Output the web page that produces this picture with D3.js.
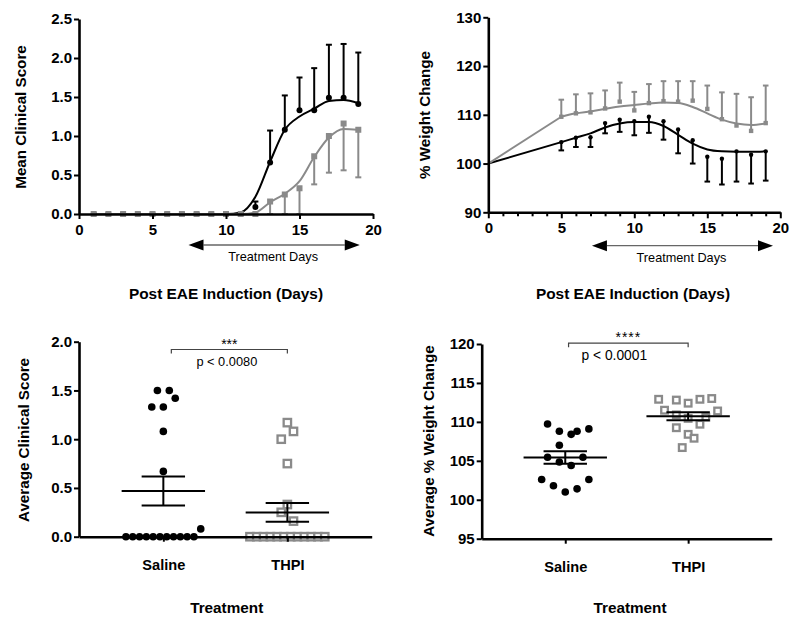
<!DOCTYPE html>
<html><head><meta charset="utf-8">
<script src="https://cdn.jsdelivr.net/npm/d3@7/dist/d3.min.js"></script>
<style>
body{margin:0;background:#fff}
svg{display:block}
text{font-family:"Liberation Sans",Arial,Helvetica,sans-serif}
</style>
</head><body>
<svg id="chart" width="800" height="627"></svg>
<script>
// ---------- DATA ----------
// Panel A: mean clinical score by day
const scoreDays = [1,2,3,4,5,6,7,8,9,10,11,12,13,14,15,16,17,18,19];
const salineScore    = [0,0,0,0,0,0,0,0,0,0,0,0.09,0.66,1.08,1.33,1.33,1.49,1.49,1.41];
const salineScoreSem = [0,0,0,0,0,0,0,0,0,0,0,0.07,0.41,0.44,0.42,0.54,0.68,0.69,0.66];
const salineScoreFit = [0,0,0,0,0,0,0,0,0,0,0.02,0.22,0.67,1.08,1.25,1.35,1.45,1.46,1.42];
const thpiScore      = [0,0,0,0,0,0,0,0,0,0,0,0,0.16,0.25,0.33,0.74,1.00,1.16,1.08];
const thpiScoreSem   = [0,0,0,0,0,0,0,0,0,0,0,0,0.16,0.25,0.33,0.36,0.47,0.60,0.61];
const thpiScoreFit   = [0,0,0,0,0,0,0,0,0,0,0,0.02,0.15,0.26,0.42,0.73,0.98,1.09,1.08];
const scoreYTicks = [0,0.5,1.0,1.5,2.0,2.5];
const dayTicks = [0,5,10,15,20];

// Panel B: % weight change by day
const weightDays = [0,5,6,7,8,9,10,11,12,13,14,15,16,17,18,19];
const salineWeight    = [100,104.4,105.3,105.4,108.3,109.0,108.7,109.6,108.7,107.0,104.8,101.4,101.0,102.5,101.8,102.5];
const salineWeightSem = [0,1.7,1.9,2.0,2.1,2.5,2.9,3.3,3.8,4.9,4.8,5.1,5.3,6.2,5.9,6.0];
const salineWeightFit = [100,104.4,105.3,106.2,107.4,108.2,108.5,108.5,107.7,105.9,104.1,102.9,102.5,102.4,102.4,102.5];
const thpiWeight      = [100,109.6,110.3,110.5,111.3,112.7,110.9,112.4,112.8,112.7,112.9,111.2,109.1,107.8,106.7,108.3];
const thpiWeightSem   = [0,3.5,3.9,3.9,3.7,3.9,3.8,3.9,4.1,4.2,4.0,4.8,5.5,6.5,6.9,7.7];
const thpiWeightFit   = [100,109.6,110.3,110.7,111.2,111.7,112.0,112.3,112.5,112.4,111.6,110.3,109.0,108.2,107.9,108.2];
const weightYTicks = [90,100,110,120,130];

// Treatment window (days) as drawn under each time-course panel
const treatScoreWindow  = [7.45, 19.1];
const treatWeightWindow = [7.1, 19.5];

// Panel C: average clinical score per animal
const groups = ["Saline","THPI"];
const salineAvgScore     = [1.5,1.5,1.42,1.33,1.33,1.08,0.67,0.08,0,0,0,0,0,0,0,0,0,0,0];
const salineAvgScoreSlot = [-1.75,1.75,3.5,-3.4,0,0,0,11,-11,-9,-7,-5,-3,-1,1,3,5,7,9];
const thpiAvgScore       = [1.17,1.08,1.0,0.75,0.33,0.25,0.16,0,0,0,0,0,0,0,0,0,0,0,0];
const thpiAvgScoreSlot   = [0,1.8,-1.8,0,0,-1.8,1.8,-11,-9,-7,-5,-3,-1,1,3,5,7,9,11];
const avgScoreYTicks = [0,0.5,1.0,1.5,2.0];

// Panel D: average % weight change per animal
const salineAvgWeight     = [109.72,108.8,108.4,108.8,109.1,107.0,105.45,105.45,104.85,104.4,102.6,102.6,101.8,101.4,101.0];
const salineAvgWeightSlot = [-3,-1,1,2,4,-1,-3,3,-1,1,-4,4,-2,2,0];
const thpiAvgWeight       = [112.9,112.8,112.4,112.9,113.0,111.5,111.4,110.9,110.45,110.6,109.25,109.7,108.4,107.9,106.7];
const thpiAvgWeightSlot   = [-5,-2,0,2,4,-4,5,-2,0,3,-2,2,0,1,-1];
const avgWeightYTicks = [95,100,105,110,115,120];

// ---------- STYLE ----------
const BLACK = "#000", GREY = "#8a8a8a";
const svg = d3.select("#chart");

function styleAxis(g, fs){
  g.select(".domain").attr("stroke","#000").attr("stroke-width",2.6);
  g.selectAll(".tick line").attr("stroke","#000").attr("stroke-width",2);
  g.selectAll(".tick text").attr("font-size",fs).attr("font-weight","bold").attr("fill","#000")
    .attr("font-family","'Liberation Sans',Arial,sans-serif");
}
function title(x,y,txt,rot,fs){
  svg.append("text").attr("x",x).attr("y",y)
    .attr("transform", rot ? `rotate(-90,${x},${y})` : null)
    .attr("text-anchor","middle").attr("dominant-baseline","central")
    .attr("font-size",fs).attr("font-weight","bold").text(txt);
}
function arrow(g, x, y0, win){
  const a = x(win[0]), b = x(win[1]), L = 15, H = 5.5;
  g.append("line").attr("x1",a+L).attr("x2",b-L).attr("y1",y0).attr("y2",y0)
    .attr("stroke","#666").attr("stroke-width",1.3);
  g.append("path").attr("d",`M${a},${y0}L${a+L},${y0-H}L${a+L},${y0+H}Z`).attr("fill","#000");
  g.append("path").attr("d",`M${b},${y0}L${b-L},${y0-H}L${b-L},${y0+H}Z`).attr("fill","#000");
  g.append("text").attr("x",(a+b)/2 - 1).attr("y",y0+12).attr("text-anchor","middle")
    .attr("dominant-baseline","central").attr("font-size",12.7).text("Treatment Days");
}

// ---------- PANEL A ----------
(function(){
  const ox=79, oy=19, W=294, H=195;
  const g = svg.append("g").attr("transform",`translate(${ox},${oy})`);
  const x = d3.scaleLinear().domain([0,20]).range([0,W]);
  const y = d3.scaleLinear().domain([0,2.5]).range([H,0]);
  const line = d3.line().x((d,i)=>x(scoreDays[i])).y(d=>y(d)).curve(d3.curveMonotoneX);
  const cap = 3;
  salineScore.forEach((v,i)=>{
    if(salineScoreSem[i]<=0) return;
    const xx=x(scoreDays[i]), t=y(v+salineScoreSem[i]);
    g.append("line").attr("x1",xx).attr("x2",xx).attr("y1",y(v)).attr("y2",t).attr("stroke",BLACK).attr("stroke-width",2);
    g.append("line").attr("x1",xx-cap).attr("x2",xx+cap).attr("y1",t).attr("y2",t).attr("stroke",BLACK).attr("stroke-width",2);
  });
  thpiScore.forEach((v,i)=>{
    if(thpiScoreSem[i]<=0) return;
    const xx=x(scoreDays[i]), b=y(Math.max(0,v-thpiScoreSem[i]));
    g.append("line").attr("x1",xx).attr("x2",xx).attr("y1",y(v)).attr("y2",b).attr("stroke",GREY).attr("stroke-width",2);
    g.append("line").attr("x1",xx-cap).attr("x2",xx+cap).attr("y1",b).attr("y2",b).attr("stroke",GREY).attr("stroke-width",2);
  });
  g.append("path").attr("d",line(salineScoreFit)).attr("fill","none").attr("stroke",BLACK).attr("stroke-width",2);
  g.append("path").attr("d",line(thpiScoreFit)).attr("fill","none").attr("stroke",GREY).attr("stroke-width",2);
  g.selectAll("circle.s").data(salineScore).join("circle").attr("class","s")
    .attr("cx",(d,i)=>x(scoreDays[i])).attr("cy",d=>y(d)).attr("r",3).attr("fill",BLACK);
  g.selectAll("rect.t").data(thpiScore).join("rect").attr("class","t")
    .attr("x",(d,i)=>x(scoreDays[i])-3).attr("y",d=>y(d)-3).attr("width",6).attr("height",6).attr("fill",GREY);
  const ya = g.append("g").call(d3.axisLeft(y).tickValues(scoreYTicks).tickFormat(d3.format(".1f")).tickSize(5).tickSizeOuter(0).tickPadding(2));
  styleAxis(ya,15);
  const xa = g.append("g").attr("transform",`translate(0,${H})`).call(d3.axisBottom(x).tickValues(dayTicks).tickFormat(d3.format("d")).tickSize(5).tickSizeOuter(0).tickPadding(5));
  styleAxis(xa,15);
  arrow(g, x, 226, treatScoreWindow);
})();
title(20,117,"Mean Clinical Score",true,15.2);
title(226,293,"Post EAE Induction (Days)",false,15.4);

// ---------- PANEL B ----------
(function(){
  const ox=488.3, oy=17.3, W=292, H=195;
  const g = svg.append("g").attr("transform",`translate(${ox},${oy})`);
  const x = d3.scaleLinear().domain([0,20]).range([0,W]);
  const y = d3.scaleLinear().domain([90,130]).range([H,0]);
  // straight segment from day 0 to the first measured day, smooth afterwards
  const straight = d3.line().x((d,i)=>x(weightDays[i])).y(d=>y(d));
  const smooth = d3.line().x((d,i)=>x(weightDays[i+1])).y(d=>y(d)).curve(d3.curveMonotoneX);
  const cap = 2.8;
  salineWeight.forEach((v,i)=>{
    if(salineWeightSem[i]<=0) return;
    const xx=x(weightDays[i]), b=y(v-salineWeightSem[i]);
    g.append("line").attr("x1",xx).attr("x2",xx).attr("y1",y(v)).attr("y2",b).attr("stroke",BLACK).attr("stroke-width",2);
    g.append("line").attr("x1",xx-cap).attr("x2",xx+cap).attr("y1",b).attr("y2",b).attr("stroke",BLACK).attr("stroke-width",2);
  });
  thpiWeight.forEach((v,i)=>{
    if(thpiWeightSem[i]<=0) return;
    const xx=x(weightDays[i]), t=y(v+thpiWeightSem[i]);
    g.append("line").attr("x1",xx).attr("x2",xx).attr("y1",y(v)).attr("y2",t).attr("stroke",GREY).attr("stroke-width",2);
    g.append("line").attr("x1",xx-cap).attr("x2",xx+cap).attr("y1",t).attr("y2",t).attr("stroke",GREY).attr("stroke-width",2);
  });
  [[salineWeightFit,BLACK],[thpiWeightFit,GREY]].forEach(([fit,col])=>{
    g.append("path").attr("d",straight(fit.slice(0,2))).attr("fill","none").attr("stroke",col).attr("stroke-width",2);
    g.append("path").attr("d",smooth(fit.slice(1))).attr("fill","none").attr("stroke",col).attr("stroke-width",2);
  });
  g.selectAll("circle.s").data(salineWeight.slice(1)).join("circle").attr("class","s")
    .attr("cx",(d,i)=>x(weightDays[i+1])).attr("cy",d=>y(d)).attr("r",2.2).attr("fill",BLACK);
  g.selectAll("rect.t").data(thpiWeight.slice(1)).join("rect").attr("class","t")
    .attr("x",(d,i)=>x(weightDays[i+1])-2.2).attr("y",d=>y(d)-2.2).attr("width",4.4).attr("height",4.4).attr("fill",GREY);
  const ya = g.append("g").call(d3.axisLeft(y).tickValues(weightYTicks).tickSize(5).tickSizeOuter(0).tickPadding(2));
  styleAxis(ya,15);
  const xa = g.append("g").attr("transform",`translate(0,${H})`).call(d3.axisBottom(x).tickValues(dayTicks).tickSize(6).tickSizeOuter(0).tickPadding(4));
  styleAxis(xa,15);
  const minor = g.append("g").attr("transform",`translate(0,${H})`).call(d3.axisBottom(x).tickValues(d3.range(0,21).filter(d=>d%5)).tickSize(4).tickFormat(""));
  minor.select(".domain").remove();
  minor.selectAll(".tick line").attr("stroke","#000").attr("stroke-width",2);
  arrow(g, x, 228.4, treatWeightWindow);
})();
title(424,115,"% Weight Change",true,15.2);
title(633,293,"Post EAE Induction (Days)",false,15.4);

// ---------- dot plots ----------
function dotPlot(opt){
  const g = svg.append("g").attr("transform",`translate(${opt.ox},${opt.oy})`);
  const x = d3.scalePoint().domain(groups).range([0,opt.W]).padding(opt.pad);
  const y = d3.scaleLinear().domain(opt.domain).range([opt.H,0]);
  const slot = d3.scaleLinear().domain([0,1]).range([0,opt.slotPx]);
  g.selectAll("circle.s").data(opt.saline).join("circle").attr("class","s")
    .attr("cx",(d,i)=>x("Saline")+slot(opt.salineSlot[i])).attr("cy",d=>y(d)).attr("r",3.8).attr("fill",BLACK);
  const s = opt.sq;
  g.selectAll("rect.t").data(opt.thpi).join("rect").attr("class","t")
    .attr("x",(d,i)=>x("THPI")+slot(opt.thpiSlot[i])-s/2).attr("y",d=>y(d)-s/2)
    .attr("width",s).attr("height",s).attr("fill","#fff").attr("stroke",GREY).attr("stroke-width",2.3);
  [["Saline",opt.saline],["THPI",opt.thpi]].forEach(([k,arr])=>{
    const m = d3.mean(arr), se = d3.deviation(arr)/Math.sqrt(arr.length), cx = x(k);
    const seg=(x1,x2,y1,y2)=>g.append("line").attr("x1",x1).attr("x2",x2).attr("y1",y1).attr("y2",y2).attr("stroke",BLACK).attr("stroke-width",2);
    seg(cx-41.7,cx+41.7,y(m),y(m));
    seg(cx-21.7,cx+21.7,y(m+se),y(m+se));
    seg(cx-21.7,cx+21.7,y(m-se),y(m-se));
    seg(cx,cx,y(m-se),y(m+se));
  });
  const ya = g.append("g").call(d3.axisLeft(y).tickValues(opt.ticks).tickFormat(opt.fmt).tickSize(5).tickSizeOuter(0).tickPadding(2));
  styleAxis(ya,15);
  const xa = g.append("g").attr("transform",`translate(0,${opt.H})`).call(d3.axisBottom(x).tickSize(5).tickSizeOuter(0).tickPadding(18));
  styleAxis(xa,14.6);
  const bx1 = x("Saline")+opt.brOff, bx2 = x("THPI"), by = y(opt.brY);
  g.append("path").attr("d",`M${bx1},${by+4}V${by}H${bx2}V${by+4}`).attr("fill","none").attr("stroke","#444").attr("stroke-width",1.2);
  g.append("text").attr("x",(bx1+bx2)/2).attr("y",by-1).attr("text-anchor","middle").attr("font-size",14)
    .attr("letter-spacing",opt.starSpace).text(opt.stars);
  g.append("text").attr("x",(bx1+bx2)/2 + opt.pOff).attr("y",by+12.5).attr("text-anchor","middle").attr("dominant-baseline","central")
    .attr("font-size",opt.pSize).text(opt.pText);
}
dotPlot({ox:79, oy:341.7, W:292.7, H:195, pad:0.68, domain:[0,2], ticks:avgScoreYTicks, fmt:d3.format(".1f"),
  saline:salineAvgScore, salineSlot:salineAvgScoreSlot, thpi:thpiAvgScore, thpiSlot:thpiAvgScoreSlot,
  slotPx:3.4, sq:7.4, brOff:8, brY:1.92, stars:"***", starSpace:0, pText:"p < 0.0080", pSize:12.8, pOff:-2.5});
title(23,440,"Average Clinical Score",true,15.2);
title(226.7,607,"Treatment",false,15.3);

dotPlot({ox:481.7, oy:344, W:290, H:194.7, pad:0.68, domain:[95,120], ticks:avgWeightYTicks, fmt:d3.format("d"),
  saline:salineAvgWeight, salineSlot:salineAvgWeightSlot, thpi:thpiAvgWeight, thpiSlot:thpiAvgWeightSlot,
  slotPx:5.9, sq:6.6, brOff:3.3, brY:120.1, stars:"****", starSpace:1, pText:"p < 0.0001", pSize:13.8, pOff:-14});
title(428,441,"Average % Weight Change",true,15.2);
title(630,607,"Treatment",false,15.3);
</script>
</body></html>
